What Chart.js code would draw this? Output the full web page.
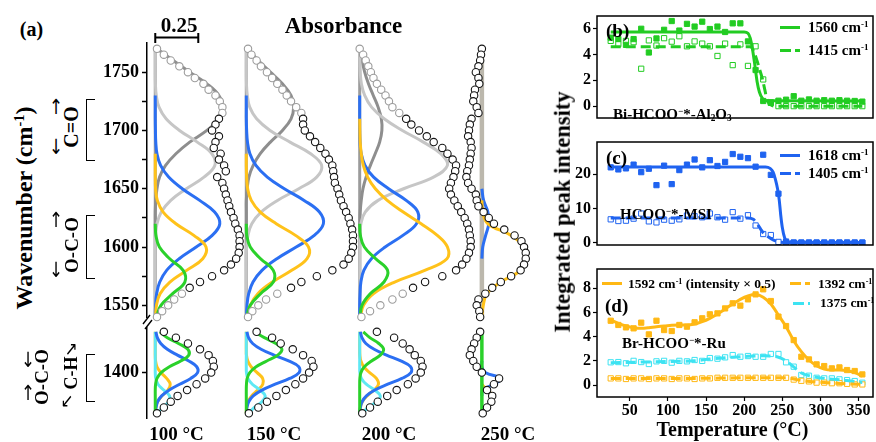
<!DOCTYPE html>
<html><head><meta charset="utf-8"><title>IR peak fitting and integrated intensities</title>
<script src="https://cdn.jsdelivr.net/npm/chart.js@4.4.1/dist/chart.umd.min.js"></script>
<style>
html,body{margin:0;padding:0;background:#fff}
body{position:relative;width:876px;height:442px;overflow:hidden;font-family:'Liberation Serif','Times New Roman',serif;font-weight:bold;color:#000}
canvas{position:absolute}
.t{position:absolute;white-space:nowrap;line-height:1;transform:translate(-50%,-50%)}
.ar{position:absolute;white-space:nowrap;line-height:1;transform:translate(-50%,-50%) scaleX(0.8);font-family:'DejaVu Sans',sans-serif;font-weight:normal}
.rot{position:absolute;white-space:nowrap;line-height:1;transform:translate(-50%,-50%) rotate(-90deg)}
.l{position:absolute;white-space:nowrap;line-height:1;transform:translateY(-50%)}
.sw{position:absolute;height:3px}
.br{position:absolute;width:8px;border:1.2px solid #000;border-right:none}
sup{font-size:0.6em;vertical-align:0.55em;line-height:0}
sub{font-size:0.62em;vertical-align:-0.3em;line-height:0}
</style></head><body>
<canvas id="aUp" width="483" height="306" style="left:87px;top:27px"></canvas>
<canvas id="aLo" width="483" height="122" style="left:87px;top:312px"></canvas>
<canvas id="pb" width="319" height="154" style="left:557px;top:2px"></canvas>
<canvas id="pc" width="319" height="155" style="left:557px;top:128px"></canvas>
<canvas id="pd" width="319" height="166" style="left:557px;top:255px"></canvas>

<!-- panel (a) text -->
<div class="t" style="left:31.5px;top:28.5px;font-size:20px">(a)</div>
<div class="t" style="left:179px;top:25px;font-size:21px">0.25</div>
<div class="t" style="left:343.5px;top:24.5px;font-size:23px">Absorbance</div>
<div class="rot" style="left:24px;top:208px;font-size:24px">Wavenumber (cm<sup>-1</sup>)</div>

<div class="ar" style="left:55.5px;top:107px;font-size:21px">↑</div>
<div class="rot" style="left:70.5px;top:127px;font-size:20px">C=O</div>
<div class="ar" style="left:55.5px;top:147px;font-size:21px">↓</div>
<div class="br" style="left:86px;top:99px;height:60px"></div>

<div class="ar" style="left:55.5px;top:220px;font-size:21px">↑</div>
<div class="rot" style="left:70.5px;top:245px;font-size:19px">O-C-O</div>
<div class="ar" style="left:55.5px;top:270px;font-size:21px">↓</div>
<div class="br" style="left:86px;top:215px;height:62px"></div>

<div class="ar" style="left:28px;top:360px;font-size:21px">↓</div>
<div class="rot" style="left:40.5px;top:377px;font-size:19px">O-C-O</div>
<div class="ar" style="left:28px;top:393px;font-size:21px">↑</div>
<div class="ar" style="left:71px;top:348px;font-size:19px">↗</div>
<div class="rot" style="left:70.5px;top:373px;font-size:18px">C-H</div>
<div class="ar" style="left:67px;top:400px;font-size:19px">↙</div>
<div class="br" style="left:86px;top:354px;height:46px"></div>

<div class="t" style="left:176.5px;top:433px;font-size:19px">100 °C</div>
<div class="t" style="left:274px;top:433px;font-size:19px">150 °C</div>
<div class="t" style="left:389px;top:433px;font-size:19px">200 °C</div>
<div class="t" style="left:508px;top:433px;font-size:19px">250 °C</div>

<!-- right panels text -->
<div class="rot" style="left:563px;top:212px;font-size:22.5px">Integrated peak intensity</div>
<div class="t" style="left:732.5px;top:429px;font-size:20px">Temperature (°C)</div>

<div class="l" style="left:606px;top:30px;font-size:19px">(b)</div>
<div class="l" style="left:613px;top:114px;font-size:15px">Bi-HCOO<sup>−</sup>*-Al<sub>2</sub>O<sub>3</sub></div>
<div class="sw" style="left:780px;top:25.5px;width:20px;background:#22cc22"></div>
<div class="l" style="left:808px;top:27px;font-size:15px">1560 cm<sup>-1</sup></div>
<div class="sw" style="left:780px;top:48.5px;width:20px;background:repeating-linear-gradient(90deg,#22cc22 0 11px,transparent 11px 15px)"></div>
<div class="l" style="left:808px;top:50px;font-size:15px">1415 cm<sup>-1</sup></div>

<div class="l" style="left:606px;top:156.5px;font-size:19px">(c)</div>
<div class="l" style="left:620px;top:214px;font-size:15px">HCOO<sup>−</sup>*-MSI</div>
<div class="sw" style="left:780px;top:153.5px;width:20px;background:#1f63f0"></div>
<div class="l" style="left:808px;top:155px;font-size:15px">1618 cm<sup>-1</sup></div>
<div class="sw" style="left:780px;top:171.5px;width:20px;background:repeating-linear-gradient(90deg,#1f63f0 0 11px,transparent 11px 15px)"></div>
<div class="l" style="left:808px;top:173px;font-size:15px">1405 cm<sup>-1</sup></div>

<div class="l" style="left:605px;top:304.5px;font-size:19px">(d)</div>
<div class="l" style="left:622px;top:343px;font-size:15px">Br-HCOO<sup>−</sup>*-Ru</div>
<div class="sw" style="left:602px;top:282px;width:20px;background:#ffb814"></div>
<div class="l" style="left:628px;top:283.5px;font-size:13.5px">1592 cm<sup>-1</sup> (intensity × 0.5)</div>
<div class="sw" style="left:790px;top:282px;width:20px;background:repeating-linear-gradient(90deg,#ffb814 0 11px,transparent 11px 15px)"></div>
<div class="l" style="left:818px;top:283.5px;font-size:13.5px">1392 cm<sup>-1</sup></div>
<div class="sw" style="left:793px;top:301.5px;width:17px;background:repeating-linear-gradient(90deg,#3de3f2 0 11px,transparent 11px 15px)"></div>
<div class="l" style="left:820px;top:303px;font-size:13.5px">1375 cm<sup>-1</sup></div>

<script>
// ---------------- Panel (a): spectra and fitted components ----------------
const COLUMN_LABELS = ['100 °C', '150 °C', '200 °C', '250 °C'];
const STACK_OFFSET = [0.048, 0.577, 1.236, 1.946];   // horizontal offset of each spectrum (absorbance units)
const SCALE_BAR = 0.25;
const A_UP_TICKS = [1550, 1575, 1600, 1625, 1650, 1675, 1700, 1725, 1750];
const A_LO_TICKS = [1400];

// wavenumber grids
const W_UP = [1770,1760,1750,1740,1730,1720,1710,1700,1690,1680,1670,1660,1650,1640,1630,1620,1610,1600,1590,1580,1570,1560,1550,1540];
const W_DATA_UP = [1770,1765,1760,1755,1750,1745,1740,1735,1730,1725,1720,1715,1710,1705,1700,1695,1690,1685,1680,1675,1670,1665,1660,1655,1650,1645,1640,1635,1630,1625,1620,1615,1610,1605,1600,1595,1590,1585,1580,1575,1570,1565,1560,1555,1550,1545,1540];
const W_LO = [1435,1430,1425,1420,1415,1410,1405,1400,1395,1390,1385,1380,1375,1370,1365];

// measured spectra (circles), grid W_DATA_UP
const S100_UP = [0.01,0.05,0.09,0.14,0.19,0.23,0.28,0.31,0.35,0.375,0.39,0.39,0.37,0.35,0.33,0.37,0.35,0.34,0.38,0.37,0.40,0.41,0.36,0.39,0.40,0.41,0.42,0.43,0.44,0.455,0.465,0.48,0.49,0.49,0.49,0.485,0.47,0.44,0.40,0.33,0.26,0.20,0.155,0.11,0.075,0.04,0.01];
const S150_UP = [0.01,0.03,0.06,0.085,0.12,0.15,0.18,0.21,0.235,0.26,0.29,0.32,0.33,0.33,0.34,0.37,0.40,0.43,0.46,0.48,0.50,0.505,0.51,0.515,0.53,0.54,0.55,0.565,0.58,0.595,0.605,0.615,0.62,0.62,0.62,0.61,0.595,0.565,0.50,0.41,0.32,0.26,0.18,0.115,0.07,0.035,0.01];
const S200_UP = [0.0,0.02,0.035,0.05,0.065,0.08,0.10,0.125,0.15,0.17,0.19,0.23,0.27,0.30,0.345,0.39,0.43,0.48,0.51,0.54,0.56,0.555,0.545,0.53,0.52,0.53,0.55,0.57,0.59,0.61,0.625,0.635,0.64,0.645,0.645,0.635,0.62,0.595,0.56,0.48,0.38,0.31,0.25,0.19,0.12,0.06,0.01];
const S250_UP = [0.0,-0.005,-0.01,-0.02,-0.035,-0.02,-0.015,-0.04,-0.045,-0.05,-0.03,-0.02,-0.06,-0.07,-0.075,-0.08,-0.065,-0.06,-0.065,-0.07,-0.075,-0.085,-0.09,-0.08,-0.06,-0.035,-0.03,-0.02,0.01,0.04,0.07,0.13,0.19,0.23,0.245,0.255,0.255,0.245,0.225,0.17,0.11,0.06,0.02,-0.02,-0.03,-0.015,-0.01];

// fitted components, grid W_UP
const A100_DARK   = [0.01,0.105,0.2,0.3,0.37,0.39,0.37,0.30,0.20,0.12,0.06,0.025,0.01,0.003,0,0,0,0,0,0,0,0,0,0];
const A100_LIGHT  = [0,0,0,0.001,0.006,0.022,0.063,0.141,0.244,0.329,0.346,0.283,0.181,0.090,0.035,0.010,0.002,0,0,0,0,0,0,0];
const A100_BLUE   = [null,null,null,null,0,0,0,0.001,0.003,0.010,0.031,0.078,0.157,0.258,0.345,0.375,0.331,0.238,0.139,0.066,0.026,0.008,0.002,0];
const A100_YELLOW = [null,null,null,null,null,null,null,null,null,0,0,0,0.002,0.012,0.046,0.120,0.224,0.295,0.276,0.182,0.085,0.028,0.007,0.001];
const A100_GREEN  = [null,null,null,null,null,null,null,null,null,null,null,null,null,null,null,0,0.004,0.024,0.084,0.162,0.172,0.101,0.033,0.006];

const A150_DARK   = [0.01,0.07,0.14,0.21,0.26,0.275,0.26,0.21,0.14,0.08,0.04,0.015,0.005,0,0,0,0,0,0,0,0,0,0,0];
const A150_LIGHT  = [0,0,0,0.001,0.006,0.020,0.060,0.138,0.254,0.374,0.438,0.409,0.305,0.181,0.086,0.032,0.010,0.002,0,0,0,0,0,0];
const A150_BLUE   = [null,null,null,null,0,0,0,0.002,0.007,0.021,0.056,0.122,0.221,0.336,0.425,0.448,0.395,0.290,0.178,0.091,0.039,0.014,0.004,0.001];
const A150_YELLOW = [null,null,null,null,null,null,null,null,null,0,0,0.002,0.008,0.029,0.081,0.174,0.286,0.362,0.353,0.264,0.152,0.067,0.023,0.006];
const A150_GREEN  = [null,null,null,null,null,null,null,null,null,null,null,null,null,null,null,0,0.003,0.023,0.083,0.157,0.157,0.083,0.023,0.003];

const A200_DARK   = [0.005,0.014,0.029,0.051,0.079,0.107,0.126,0.129,0.116,0.090,0.062,0.037,0.019,0.009,0.003,0.001,0,0,0,0,0,0,0,0];
const A200_LIGHT  = [0,0.001,0.003,0.010,0.029,0.069,0.142,0.248,0.370,0.471,0.51,0.429,0.255,0.107,0.032,0.007,0.001,0,0,0,0,0,0,0];
const A200_BLUE   = [null,null,null,null,0,0,0,0,0.002,0.009,0.031,0.081,0.168,0.270,0.338,0.330,0.251,0.148,0.068,0.024,0.007,0.002,0,0];
const A200_YELLOW = [null,null,null,null,null,null,0,0.001,0.003,0.009,0.021,0.046,0.091,0.160,0.253,0.357,0.451,0.51,0.507,0.378,0.203,0.079,0.022,0.004];
const A200_GREEN  = [null,null,null,null,null,null,null,null,null,null,null,null,null,null,null,0,0.004,0.027,0.093,0.162,0.141,0.061,0.013,0.002];

const A250_BLUE   = [null,null,null,null,null,null,null,null,null,null,null,null,0,0.01,0.035,0.04,0.022,0.005,0,null,null,null,null,null];
const A250_YELLOW = [null,null,null,null,null,null,null,null,null,null,null,null,null,0,0.005,0.035,0.17,0.245,0.255,0.225,0.11,0.03,0.008,0];

// lower region (C-H / O-C-O), grid W_LO
const S100_LO = [0.05,0.12,0.19,0.26,0.31,0.335,0.34,0.325,0.29,0.24,0.185,0.13,0.09,0.05,0.01];
const S150_LO = [0.06,0.15,0.20,0.27,0.33,0.38,0.39,0.365,0.33,0.285,0.23,0.175,0.12,0.07,0.015];
const S200_LO = [0.10,0.20,0.25,0.29,0.32,0.355,0.365,0.355,0.325,0.28,0.215,0.16,0.105,0.06,0.015];
const S250_LO = [-0.01,-0.03,-0.045,-0.06,-0.07,-0.05,-0.03,0.0,0.10,0.07,0.03,0.06,0.055,0.03,0.005];

const A100_LO_GREEN  = [0.027,0.070,0.135,0.189,0.195,0.148,0.082,0.034,0.010,0.002,0,0,0,0,0];
const A100_LO_BLUE   = [0.004,0.012,0.032,0.070,0.129,0.195,0.241,0.246,0.206,0.142,0.081,0.037,0.014,0.005,0.001];
const A100_LO_YELLOW = [0,0,0,0,0,0.002,0.010,0.033,0.066,0.087,0.073,0.039,0.013,0.003,0];
const A100_LO_CYAN   = [0,0,0,0,0,0,0,0,0.003,0.016,0.049,0.083,0.078,0.041,0.012];

const A150_LO_GREEN  = [0.047,0.105,0.172,0.207,0.183,0.119,0.057,0.020,0.005,0.001,0,0,0,0,0];
const A150_LO_BLUE   = [0.004,0.013,0.037,0.086,0.161,0.246,0.305,0.307,0.252,0.168,0.091,0.040,0.014,0.004,0.001];
const A150_LO_YELLOW = [0,0,0,0,0.001,0.009,0.028,0.063,0.095,0.096,0.066,0.031,0.010,0.002,0];
const A150_LO_CYAN   = [0,0,0,0,0,0,0,0.001,0.009,0.035,0.080,0.110,0.090,0.045,0.013];

const A200_LO_GREEN  = [0.021,0.059,0.111,0.139,0.120,0.069,0.027,0.007,0.001,0,0,0,0,0,0];
const A200_LO_BLUE   = [0.004,0.013,0.036,0.084,0.156,0.239,0.296,0.298,0.245,0.163,0.088,0.039,0.014,0.004,0.001];
const A200_LO_YELLOW = [0,0,0,0,0.001,0.007,0.024,0.058,0.097,0.109,0.083,0.043,0.015,0.004,0.001];
const A200_LO_CYAN   = [0,0,0,0,0,0,0,0.001,0.010,0.038,0.087,0.120,0.098,0.049,0.014];

const A250_LO_GREEN  = [0,0,0,0,0,0,0,0,0,0,0,0,0,0,0];
const A250_LO_BLUE   = [null,null,null,null,null,0,0,0.02,0.11,0.07,0.005,0,null,null,null];
const A250_LO_YELLOW = [null,null,null,null,null,null,null,null,null,0,0.03,0.065,0.06,0.03,0.005];

// ---------------- Panels (b)-(d): integrated intensities vs temperature ----------------
const T = [25,35,45,55,65,75,85,95,105,115,125,135,145,155,165,175,185,195,205,215,225,235,245,255,265,275,285,295,305,315,325,335,345,355];
const X_TICKS = [50,100,150,200,250,300,350];
const B_YTICKS = [0,2,4,6];
const C_YTICKS = [0,10,20];
const D_YTICKS = [0,2,4,6,8];

const B_1560 = [5.31,5.2,4.75,5.2,6.0,4.16,5.25,5.92,6.6,5.86,6.38,6.17,6.55,5.98,6.17,5.75,6.42,6.42,5.02,2.8,0.4,0.25,0.42,0.5,0.77,0.42,0.52,0.42,0.46,0.42,0.46,0.42,0.4,0.35];
const B_1415 = [5.06,4.81,5.06,4.96,2.9,5.1,4.7,5.27,5.0,5.42,4.64,5.02,4.85,4.64,3.89,4.85,3.18,4.79,3.12,4.64,2.07,0.3,0,0,0,0,0,0,0,0,0,0,0,0];
const B_FIT1560_T = [25,200,205,208,211,214,217,220,224,230,355];
const B_FIT1560   = [5.75,5.75,5.65,5.27,4.4,3.2,1.9,1.1,0.6,0.42,0.4];
const B_FIT1415_T = [25,208,213,217,220,224,227,230,234,240,355];
const B_FIT1415   = [4.6,4.6,4.2,3.5,2.9,2.1,1.3,0.5,0.15,0,0];

const C_1618 = [22.0,21.4,21.7,22.8,20.6,21.6,16.8,22.5,17.1,21.2,22.8,24.3,22.0,24.1,22.4,23.6,25.9,25.1,24.7,22.2,25.7,19.8,14.3,0.3,0,0,0,0,0,0,0,0,0,0];
const C_1405 = [6.8,6.3,6.4,7.0,8.5,6.2,5.9,6.7,6.4,6.8,7.9,7.7,7.4,8.5,7.4,6.7,8.9,7.0,8.0,5.0,2.5,2.2,0.2,0,0,0,0,0,0,0,0,0,0,0];
const C_FIT1618_T = [25,228,234,238,241,244,246,248,250,253,257,355];
const C_FIT1618   = [22.1,22.1,21.7,20.6,18.5,15.5,12.5,8.0,4.5,1.5,0.2,0.05];
const C_FIT1405_T = [25,205,212,218,222,226,232,238,245,255,355];
const C_FIT1405   = [7.2,7.2,6.8,5.2,3.8,2.6,1.6,0.8,0.2,0,0];

const D_1592 = [5.32,4.97,4.77,4.69,5.16,4.19,5.32,4.55,4.47,4.97,4.83,5.19,5.52,5.85,5.93,6.34,6.76,6.57,7.09,7.5,7.92,6.95,5.66,4.88,3.72,2.34,2.12,1.71,1.57,1.38,1.46,1.24,1.16,0.88];
const D_1392 = [0.55,0.55,0.5,0.55,0.55,0.5,0.55,0.55,0.5,0.55,0.55,0.5,0.55,0.55,0.6,0.6,0.6,0.6,0.6,0.6,0.6,0.6,0.6,0.6,0.45,0.35,0.3,0.2,0.2,0.15,0.15,0.1,0.05,0.05];
const D_1375 = [1.88,1.9,1.8,2.0,1.9,1.74,1.96,2.0,1.85,2.0,1.96,2.07,2.0,2.23,2.18,2.29,2.48,2.34,2.4,2.34,2.34,2.57,2.57,1.88,1.52,0.83,0.77,0.6,0.55,0.55,0.47,0.41,0.33,0.19];
const D_FIT1592   = [5.38,5.1,4.88,4.74,4.69,4.74,4.83,4.88,4.94,4.97,4.97,5.05,5.24,5.52,5.88,6.29,6.7,7.09,7.37,7.48,7.26,6.7,5.79,4.83,3.67,2.76,2.07,1.6,1.32,1.24,1.24,1.19,1.02,0.74];
const D_FIT1392_T = [25,135,205,255,265,275,295,315,335,355];
const D_FIT1392   = [0.55,0.55,0.6,0.6,0.5,0.38,0.25,0.17,0.1,0.05];
const D_FIT1375_T = [25,65,105,135,155,185,205,225,245,255,265,275,285,305,335,355];
const D_FIT1375   = [1.85,1.9,1.95,2.0,2.15,2.3,2.38,2.42,2.3,2.0,1.5,1.0,0.78,0.55,0.38,0.2];

// ---------------- styles ----------------
const FONT = "'Liberation Serif','Times New Roman',serif";
Chart.defaults.font.family = FONT;
Chart.defaults.font.weight = 'bold';
Chart.defaults.color = '#000';
Chart.defaults.animation = false;
const CA = {dark:'#8e8e8e', light:'#c6c6c6', blue:'#2b6ff2', yellow:'#ffc21a', green:'#2ad12a', cyan:'#5ee8f4', base:'#9b9b9b', base250:'#bcb8ad'};
const CR = {green:'#22cc22', blue:'#1f63f0', orange:'#ffb814', cyan:'#3de3f2'};

function pts(grid, vals, off) {
  const o = [];
  for (let i = 0; i < grid.length; i++) if (vals[i] !== null && vals[i] !== undefined) o.push({x: off + vals[i], y: grid[i]});
  return o;
}
function lineDS(data, color, width) {
  return {data, showLine: true, borderColor: color, backgroundColor: color, borderWidth: width || 3, pointRadius: 0, tension: 0.4, fill: false, clip: false};
}
function circDS(data, useGray) {
  return {data, showLine: false, pointRadius: 3.7, pointBorderWidth: 1.1, pointBackgroundColor: '#fff',
    pointBorderColor: ctx => (useGray && ctx.raw && (ctx.raw.y > 1712 || ctx.raw.y < 1561)) ? '#9c9c9c' : '#151515', clip: false};
}

const UP = [
  {spec:S100_UP, dark:A100_DARK, light:A100_LIGHT, blue:A100_BLUE, yellow:A100_YELLOW, green:A100_GREEN},
  {spec:S150_UP, dark:A150_DARK, light:A150_LIGHT, blue:A150_BLUE, yellow:A150_YELLOW, green:A150_GREEN},
  {spec:S200_UP, dark:A200_DARK, light:A200_LIGHT, blue:A200_BLUE, yellow:A200_YELLOW, green:A200_GREEN},
  {spec:S250_UP, blue:A250_BLUE, yellow:A250_YELLOW}
];
const LO = [
  {spec:S100_LO, green:A100_LO_GREEN, blue:A100_LO_BLUE, yellow:A100_LO_YELLOW, cyan:A100_LO_CYAN},
  {spec:S150_LO, green:A150_LO_GREEN, blue:A150_LO_BLUE, yellow:A150_LO_YELLOW, cyan:A150_LO_CYAN},
  {spec:S200_LO, green:A200_LO_GREEN, blue:A200_LO_BLUE, yellow:A200_LO_YELLOW, cyan:A200_LO_CYAN},
  {spec:S250_LO, green:A250_LO_GREEN, blue:A250_LO_BLUE, yellow:A250_LO_YELLOW}
];

// first dataset is drawn on top
const upSets = [];
UP.forEach((c, i) => upSets.push(circDS(pts(W_DATA_UP, c.spec, STACK_OFFSET[i]), i < 3)));
UP.forEach((c, i) => { if (c.green) upSets.push(lineDS(pts(W_UP, c.green, STACK_OFFSET[i]), CA.green)); });
UP.forEach((c, i) => { if (c.yellow) upSets.push(lineDS(pts(W_UP, c.yellow, STACK_OFFSET[i]), CA.yellow)); });
UP.forEach((c, i) => { if (c.blue) upSets.push(lineDS(pts(W_UP, c.blue, STACK_OFFSET[i]), CA.blue)); });
UP.forEach((c, i) => { if (c.light) upSets.push(lineDS(pts(W_UP, c.light, STACK_OFFSET[i]), CA.light)); });
UP.forEach((c, i) => { if (c.dark) upSets.push(lineDS(pts(W_UP, c.dark, STACK_OFFSET[i]), CA.dark)); });
UP.forEach((c, i) => {
  const base = [{x: STACK_OFFSET[i], y: W_UP[0]}, {x: STACK_OFFSET[i], y: W_UP[W_UP.length - 1]}];
  upSets.push(lineDS(base, i < 3 ? CA.base : CA.base250, i < 3 ? 3 : 4.5));
});

const loSets = [];
LO.forEach((c, i) => loSets.push(circDS(pts(W_LO, c.spec, STACK_OFFSET[i]), false)));
LO.forEach((c, i) => loSets.push(lineDS(pts(W_LO, c.green, STACK_OFFSET[i]), CA.green, i < 3 ? 3 : 3.5)));
LO.forEach((c, i) => loSets.push(lineDS(pts(W_LO, c.blue, STACK_OFFSET[i]), CA.blue)));
LO.forEach((c, i) => { if (c.cyan) loSets.push(lineDS(pts(W_LO, c.cyan, STACK_OFFSET[i]), CA.cyan)); });
LO.forEach((c, i) => loSets.push(lineDS(pts(W_LO, c.yellow, STACK_OFFSET[i]), CA.yellow)));

function aScales(min, max, ticks) {
  return {
    x: {type: 'linear', min: 0, max: 2.4, display: false},
    y: {type: 'linear', min, max, position: 'left',
      afterFit: s => { s.width = 60; },
      afterBuildTicks: s => { s.ticks = ticks.map(v => ({value: v})); },
      ticks: {font: {size: 18, weight: 'bold', family: FONT}, color: '#000', padding: 3, callback: v => (v % 50 === 0 ? String(v) : '')},
      grid: {display: true, drawOnChartArea: false, drawTicks: true, tickLength: 5, tickColor: '#000', tickWidth: 1.5},
      border: {display: true, color: '#000', width: 1.5}}
  };
}

const scaleBar = {id: 'scaleBar', afterDraw(ch) {
  const ctx = ch.ctx, x = ch.scales.x;
  const x0 = x.getPixelForValue(STACK_OFFSET[0]), x1 = x.getPixelForValue(STACK_OFFSET[0] + SCALE_BAR);
  const y = 10.5;
  ctx.save(); ctx.strokeStyle = '#000'; ctx.lineWidth = 2;
  ctx.beginPath(); ctx.moveTo(x0, y); ctx.lineTo(x1, y);
  ctx.moveTo(x0, y - 4.5); ctx.lineTo(x0, y + 5.5); ctx.moveTo(x1, y - 4.5); ctx.lineTo(x1, y + 5.5);
  ctx.stroke(); ctx.restore();
}};
const axisBreak = {id: 'axisBreak', afterDraw(ch) {
  const ctx = ch.ctx, a = ch.chartArea;
  ctx.save(); ctx.strokeStyle = '#000'; ctx.lineWidth = 1.4;
  ctx.beginPath();
  ctx.moveTo(a.left - 4, a.top - 4); ctx.lineTo(a.left + 3, a.top - 13);
  ctx.moveTo(a.left - 2, a.top + 1); ctx.lineTo(a.left + 5, a.top - 8);
  ctx.stroke(); ctx.restore();
}};

new Chart(document.getElementById('aUp'), {
  type: 'scatter', data: {datasets: upSets},
  options: {responsive: false, animation: false, layout: {padding: {top: 16, bottom: 16, left: 0, right: 10}, autoPadding: false},
    plugins: {legend: {display: false}, tooltip: {enabled: false}}, scales: aScales(1540, 1775, A_UP_TICKS)},
  plugins: [scaleBar]
});
new Chart(document.getElementById('aLo'), {
  type: 'scatter', data: {datasets: loSets},
  options: {responsive: false, animation: false, layout: {padding: {top: 16, bottom: 16, left: 0, right: 10}, autoPadding: false},
    plugins: {legend: {display: false}, tooltip: {enabled: false}}, scales: aScales(1361, 1438.3, A_LO_TICKS)},
  plugins: [axisBreak]
});

// ---------------- right panels ----------------
const frame = {id: 'frame', afterDraw(ch) {
  const ctx = ch.ctx, a = ch.chartArea;
  ctx.save(); ctx.strokeStyle = '#000'; ctx.lineWidth = 1.5;
  ctx.strokeRect(a.left, a.top, a.right - a.left, a.bottom - a.top); ctx.restore();
}};
function xy(xs, ys) { return xs.map((x, i) => ({x, y: ys[i]})); }
function fitDS(xs, ys, color, dashed) {
  return {data: xy(xs, ys), showLine: true, borderColor: color, borderWidth: 3, pointRadius: 0,
    cubicInterpolationMode: 'monotone', borderDash: dashed ? [10, 5] : [], fill: false};
}
function sqDS(ys, color, filled) {
  return {data: xy(T, ys), showLine: false, pointStyle: 'rect', pointRadius: 3.7, pointBorderWidth: 1,
    pointBackgroundColor: filled ? color : '#fff', pointBorderColor: color};
}
function panel(id, datasets, min, max, yticks, showX) {
  return new Chart(document.getElementById(id), {
    type: 'scatter', data: {datasets},
    options: {responsive: false, animation: false,
      layout: {padding: {top: 14, bottom: showX ? 0 : 14, left: 0, right: 3}, autoPadding: false},
      plugins: {legend: {display: false}, tooltip: {enabled: false}},
      scales: {
        x: {type: 'linear', min: 7, max: 369, display: showX,
          afterFit: s => { s.height = 24; },
          afterBuildTicks: s => { s.ticks = X_TICKS.map(v => ({value: v})); },
          ticks: {font: {size: 16, weight: 'bold', family: FONT}, color: '#000', padding: 0, maxRotation: 0, autoSkip: false},
          grid: {drawOnChartArea: false, drawTicks: true, tickLength: 4, tickColor: '#000', tickWidth: 1.2},
          border: {display: false}},
        y: {type: 'linear', min, max,
          afterFit: s => { s.width = 40; },
          afterBuildTicks: s => { s.ticks = yticks.map(v => ({value: v})); },
          ticks: {font: {size: 16, weight: 'bold', family: FONT}, color: '#000', padding: 2},
          grid: {drawOnChartArea: false, drawTicks: true, tickLength: 4, tickColor: '#000', tickWidth: 1.2},
          border: {display: false}}
      }},
    plugins: [frame]
  });
}

panel('pb', [
  fitDS(B_FIT1560_T, B_FIT1560, CR.green, false),
  fitDS(B_FIT1415_T, B_FIT1415, CR.green, true),
  sqDS(B_1560, CR.green, true),
  sqDS(B_1415, CR.green, false)
], -0.92, 6.99, B_YTICKS, false);

panel('pc', [
  fitDS(C_FIT1618_T, C_FIT1618, CR.blue, false),
  fitDS(C_FIT1405_T, C_FIT1405, CR.blue, true),
  sqDS(C_1618, CR.blue, true),
  sqDS(C_1405, CR.blue, false)
], -0.71, 29.42, C_YTICKS, false);

panel('pd', [
  fitDS(T, D_FIT1592, CR.orange, false),
  fitDS(D_FIT1392_T, D_FIT1392, CR.orange, true),
  fitDS(D_FIT1375_T, D_FIT1375, CR.cyan, true),
  sqDS(D_1592, CR.orange, true),
  sqDS(D_1392, CR.orange, false),
  sqDS(D_1375, CR.cyan, false)
], -0.99, 9.6, D_YTICKS, true);
</script>
</body></html>
